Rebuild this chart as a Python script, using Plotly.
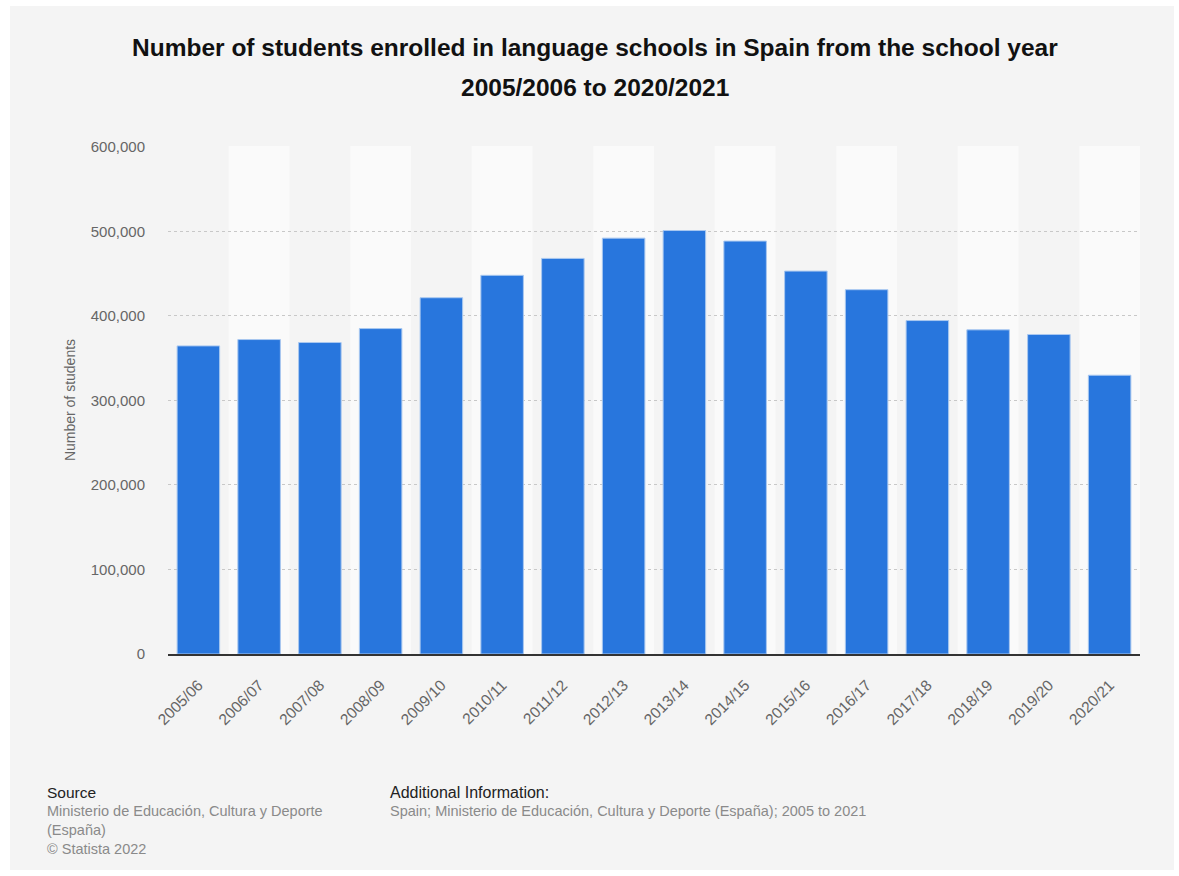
import plotly.graph_objects as go

years = ["2005/06", "2006/07", "2007/08", "2008/09", "2009/10", "2010/11", "2011/12",
         "2012/13", "2013/14", "2014/15", "2015/16", "2016/17", "2017/18", "2018/19",
         "2019/20", "2020/21"]
students = [364500, 372000, 368500, 385000, 421500, 448000, 468000, 492000, 501000,
            488500, 453000, 431000, 394500, 383500, 378000, 329800]
y_ticks = [0, 100000, 200000, 300000, 400000, 500000, 600000]
y_tick_labels = ["0", "100,000", "200,000", "300,000", "400,000", "500,000", "600,000"]

title_line1 = "Number of students enrolled in language schools in Spain from the school year"
title_line2 = "2005/2006 to 2020/2021"

PL, PR, PT, PB = 168, 39, 146, 222
W, H = 1179, 876
PW, PH = W - PL - PR, H - PT - PB


def px_x(x):
    return (x - PL) / PW


def px_y(y):
    return (H - PB - y) / PH


fig = go.Figure()
fig.add_trace(go.Bar(
    x=list(range(len(years))), y=students,
    marker=dict(color="#2876dd", line=dict(color="#a9c8f0", width=1)),
    width=0.7,
    hovertemplate="%{y:,}<extra></extra>",
))

shapes = []
# outer panel (drawn first)
shapes.append(dict(type="rect", xref="paper", yref="paper", x0=px_x(10), x1=px_x(1174), y0=px_y(870), y1=px_y(6),
                   fillcolor="#f4f4f4", line=dict(width=0), layer="below"))
# alternating column bands
for i in range(len(years)):
    if i % 2 == 1:
        shapes.append(dict(type="rect", xref="x", yref="paper", x0=i - 0.5, x1=i + 0.5,
                           y0=0, y1=1, fillcolor="#fafafa", line=dict(width=0), layer="below"))

fig.update_layout(
    width=W, height=H,
    paper_bgcolor="#ffffff", plot_bgcolor="rgba(0,0,0,0)",
    margin=dict(l=PL, r=PR, t=PT, b=PB),
    font=dict(family="Liberation Sans, Arial, sans-serif", color="#666666", size=13),
    showlegend=False,
    bargap=0.3,
    shapes=shapes,
    xaxis=dict(
        tickmode="array", tickvals=list(range(len(years))), ticktext=years,
        tickangle=-45, range=[-0.5, len(years) - 0.5],
        showline=True, linecolor="#333333", linewidth=2, showgrid=False,
        ticks="", ticklabelstandoff=14, tickfont=dict(size=15.5, color="#666666"),
    ),
    yaxis=dict(
        range=[0, 601000], tickmode="array", tickvals=y_ticks, ticktext=y_tick_labels,
        showgrid=True, gridcolor="#c8c8c8", griddash="dot", gridwidth=1,
        zeroline=False, showline=False, ticks="", ticklabelstandoff=22,
        tickfont=dict(size=15, color="#666666"),
        title=dict(text="Number of students", font=dict(size=14, color="#666666"), standoff=11),
    ),
)

title_font = dict(size=24.5, color="#111111", family="Liberation Sans, Arial, sans-serif", weight="bold")
fig.add_annotation(xref="paper", yref="paper", x=px_x(595), y=px_y(48),
                   xanchor="center", yanchor="middle", text=title_line1, showarrow=False, font=title_font)
fig.add_annotation(xref="paper", yref="paper", x=px_x(595), y=px_y(87),
                   xanchor="center", yanchor="middle", text=title_line2, showarrow=False, font=title_font)

fig.add_annotation(xref="paper", yref="paper", x=px_x(45), y=px_y(792), xanchor="left", yanchor="middle",
                   text="Source", showarrow=False, font=dict(size=15.5, color="#222222"))
fig.add_annotation(xref="paper", yref="paper", x=px_x(45), y=px_y(801), xanchor="left", yanchor="top",
                   align="left", showarrow=False,
                   text="Ministerio de Educación, Cultura y Deporte<br>(España)<br>© Statista 2022",
                   font=dict(size=14.5, color="#8a8a8a"))
fig.add_annotation(xref="paper", yref="paper", x=px_x(388), y=px_y(792), xanchor="left", yanchor="middle",
                   text="Additional Information:", showarrow=False, font=dict(size=16, color="#222222"))
fig.add_annotation(xref="paper", yref="paper", x=px_x(388), y=px_y(801), xanchor="left", yanchor="top",
                   align="left", showarrow=False,
                   text="Spain; Ministerio de Educación, Cultura y Deporte (España); 2005 to 2021",
                   font=dict(size=14.5, color="#8a8a8a"))

fig.write_html("out.html")
